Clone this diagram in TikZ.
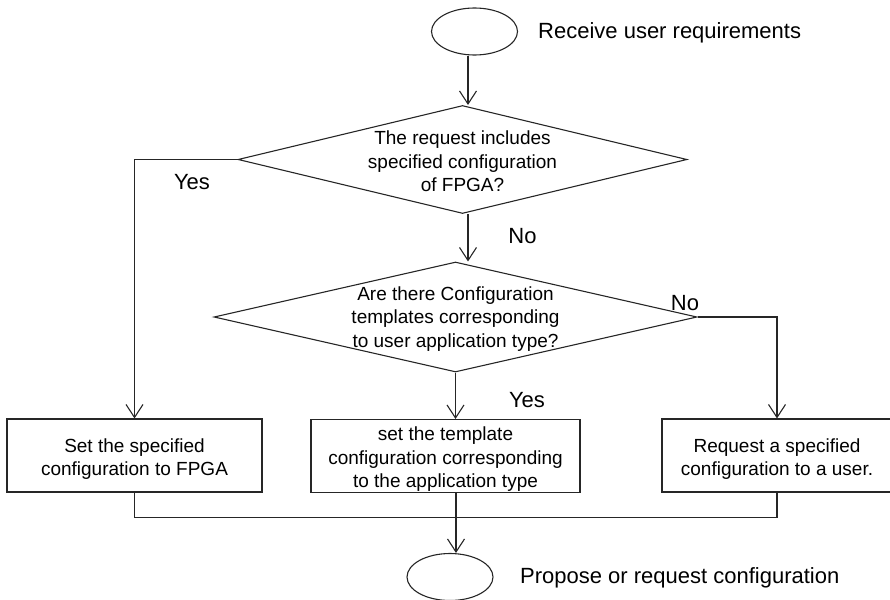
\documentclass[tikz,border=0pt]{standalone}
\usepackage{fontspec}
\setmainfont{Liberation Sans}
\usetikzlibrary{shapes.geometric,arrows.meta}
\begin{document}
\begin{tikzpicture}[x=1pt,y=-1pt,
  ln/.style={line width=1.1pt, draw=black!85},
  arr/.style={ln, -{Straight Barb[length=13pt,width=17pt,line width=1.1pt]}},
  term/.style={ellipse, ln, inner sep=0pt, minimum width=86pt, minimum height=47pt},
  decision/.style={diamond, ln, inner sep=0pt},
  procbox/.style={rectangle, ln, inner sep=0pt, minimum height=73pt},
  dtext/.style={inner sep=0pt, align=center, font=\fontsize{19}{23.5}\selectfont},
  lbl/.style={inner sep=0pt, font=\fontsize{22}{26}\selectfont},
]
\useasboundingbox (0,0) rectangle (890,599);

% terminals
\node[term] (start) at (474.5,31.5) {};
\node[lbl, anchor=west] (startlbl) at (538,33) {Receive user requirements};
\node[term] (stop) at (450,577) {};
\node[lbl, anchor=west] (stoplbl) at (520,578) {Propose or request configuration};

% decisions
\node[decision, minimum width=449pt, minimum height=108pt,
      label={[dtext, yshift=-2pt]center:{The request includes\\specified configuration\\of FPGA?}}] (d1) at (462.5,159.5) {};
\node[decision, minimum width=483pt, minimum height=110pt,
      label={[dtext, yshift=-2pt]center:{Are there Configuration\\templates corresponding\\to user application type?}}] (d2) at (455.5,317) {};

% process boxes
\node[procbox, minimum width=255pt,
      label={[dtext, yshift=-3.5pt]center:{Set the specified\\configuration to FPGA}}] (b1) at (134.5,455.5) {};
\node[procbox, minimum width=269pt,
      label={[dtext, yshift=-3.5pt]center:{set the template\\configuration corresponding\\to the application type}}] (b2) at (445.5,456) {};
\node[procbox, minimum width=230pt,
      label={[dtext, yshift=-3.5pt]center:{Request a specified\\configuration to a user.}}] (b3) at (777,455.5) {};

% connectors
\draw[arr] ([xshift=-6.5pt]start.south) -- ([xshift=5.5pt]d1.north);
\draw[arr] (d1.west) -| (b1.north);
\draw[arr] ([xshift=5.5pt]d1.south) -- ([xshift=5.5pt]d1.south |- d2.north);
\draw[arr] (d2.east) -| (b3.north);
\draw[arr] (d2.south) -- (d2.south |- b2.north);
\draw[ln] (b1.south) -- ++(0,25) -| (b3.south);
\draw[arr] ([xshift=10.5pt]b2.south) -- ([xshift=6pt]stop.north);

% branch labels
\node[lbl] (yes1) at (192,182) {Yes};
\node[lbl] (no1) at (522.5,236) {No};
\node[lbl] (no2) at (685,303) {No};
\node[lbl] (yes2) at (527,400) {Yes};
\end{tikzpicture}
\end{document}
